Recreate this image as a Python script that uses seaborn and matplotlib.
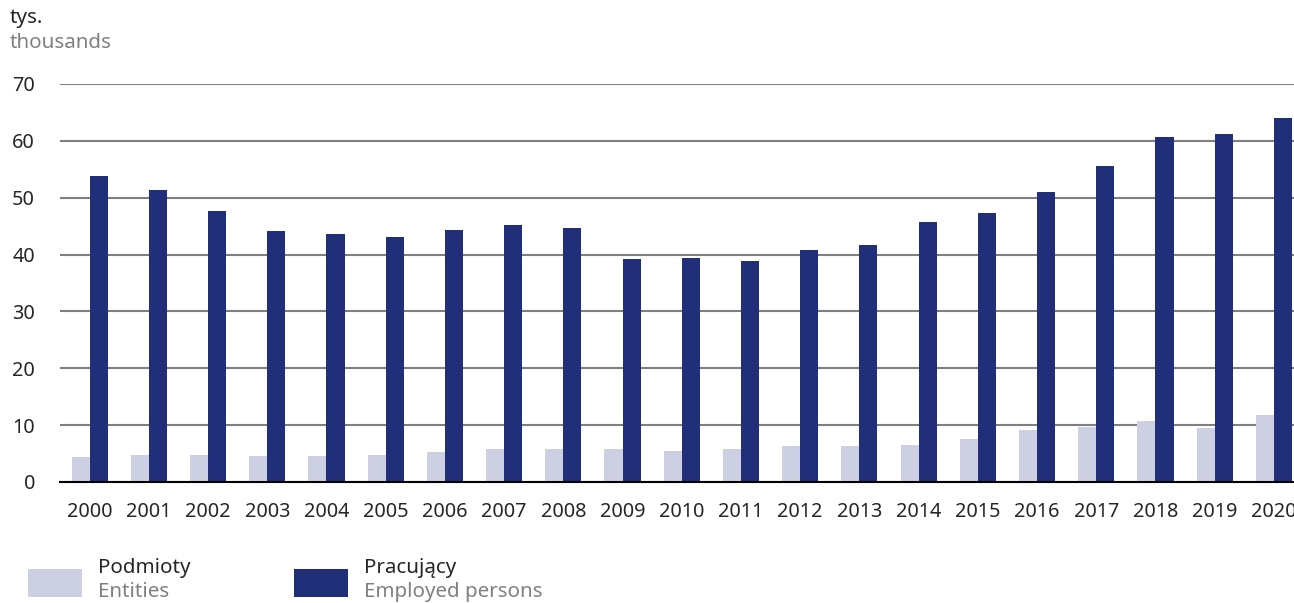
import pandas as pd
import matplotlib.pyplot as plt
import seaborn as sns
from matplotlib.patches import Rectangle

# Dane (tys.)
lata = [str(r) for r in range(2000, 2021)]
podmioty = [4.4, 4.75, 4.75, 4.6, 4.6, 4.75, 5.3, 5.8, 5.8, 5.8, 5.45,
            5.8, 6.3, 6.3, 6.5, 7.6, 9.1, 9.7, 10.7, 9.5, 11.8]
pracujacy = [53.8, 51.4, 47.7, 44.1, 43.6, 43.1, 44.3, 45.2, 44.7, 39.2, 39.4,
             38.9, 40.8, 41.7, 45.7, 47.3, 51.0, 55.6, 60.7, 61.2, 64.0]
y_ticks = [0, 10, 20, 30, 40, 50, 60, 70]

kolor_jasny = '#cdcfe3'
kolor_ciemny = '#212f7a'
szary = '#808080'

df = pd.DataFrame({
    'rok': lata * 2,
    'wartosc': podmioty + pracujacy,
    'seria': ['Podmioty'] * len(lata) + ['Pracujący'] * len(lata),
})

sns.set_style('white')
plt.rcParams['font.family'] = ['Noto Sans', 'DejaVu Sans']

fig = plt.figure(figsize=(12.94, 6.03), dpi=100)
ax = fig.add_axes([0.0464, 0.2007, 0.9536, 0.66])

sns.barplot(data=df, x='rok', y='wartosc', hue='seria',
            palette=[kolor_jasny, kolor_ciemny], width=0.61,
            saturation=1, legend=False, linewidth=0, ax=ax)

ax.set_ylim(0, 70)
ax.set_xlim(-0.5, 20.34)
ax.set_yticks(y_ticks)
ax.yaxis.grid(True, color='#7f7f7f', linewidth=1.5)
ax.set_axisbelow(True)
for s in ['top', 'right', 'left']:
    ax.spines[s].set_visible(False)
ax.spines['bottom'].set_color('black')
ax.spines['bottom'].set_linewidth(1.5)
ax.tick_params(axis='y', length=0, pad=18, labelsize=14.3)
ax.tick_params(axis='x', length=0, pad=14.5, labelsize=14.3)
ax.set_xlabel('')
ax.set_ylabel('')

# Jednostka
fig.text(10 / 1294, 1 - 18 / 603, 'tys.', fontsize=14.8, va='center', ha='left')
fig.text(10 / 1294, 1 - 43 / 603, 'thousands', fontsize=14.8, va='center',
         ha='left', color=szary)

# Legenda
legenda = [(28, kolor_jasny, 'Podmioty', 'Entities'),
           (294, kolor_ciemny, 'Pracujący', 'Employed persons')]
for x0, kolor, pl, en in legenda:
    fig.add_artist(Rectangle((x0 / 1294, 1 - 597 / 603), 54 / 1294, 28 / 603,
                             transform=fig.transFigure, color=kolor, lw=0))
    fig.text((x0 + 70) / 1294, 1 - 568 / 603, pl, fontsize=14.8, va='center', ha='left')
    fig.text((x0 + 70) / 1294, 1 - 592 / 603, en, fontsize=14.8, va='center',
             ha='left', color=szary)

plt.savefig('out.png', dpi=100)
